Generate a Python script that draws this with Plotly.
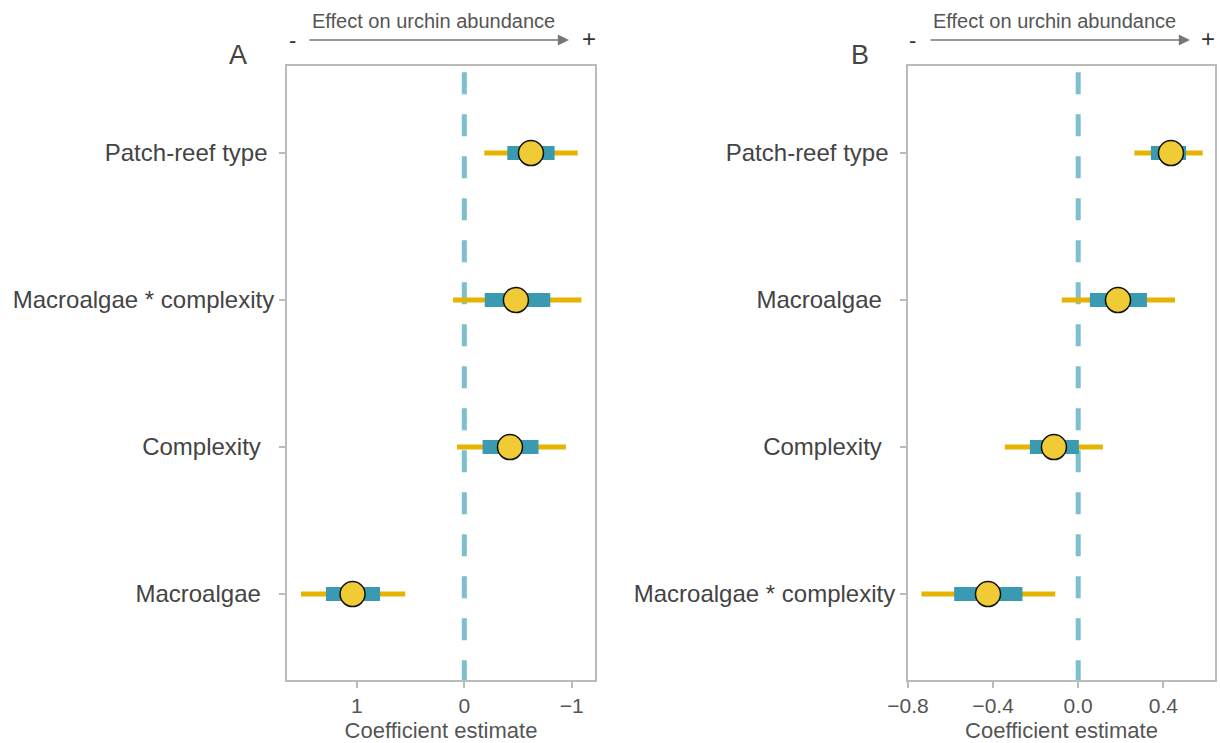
import plotly.graph_objects as go

# Panel A: coefficient estimates with inner (50%) and outer (95%) intervals
terms_a = ["Patch-reef type", "Macroalgae * complexity", "Complexity", "Macroalgae"]
labels_a = ["Patch-reef type ", "Macroalgae * complexity", "Complexity  ", "Macroalgae  "]
est_a = [-0.62, -0.48, -0.425, 1.04]
inner_lo_a = [-0.40, -0.19, -0.17, 0.784]
inner_hi_a = [-0.84, -0.80, -0.69, 1.287]
outer_lo_a = [-0.186, 0.105, 0.068, 0.55]
outer_hi_a = [-1.055, -1.09, -0.945, 1.52]

# Panel B
terms_b = ["Patch-reef type", "Macroalgae", "Complexity", "Macroalgae * complexity"]
labels_b = ["Patch-reef type ", "Macroalgae  ", "Complexity  ", "Macroalgae * complexity"]
est_b = [0.436, 0.187, -0.114, -0.424]
inner_lo_b = [0.342, 0.055, -0.227, -0.583]
inner_hi_b = [0.507, 0.323, 0.003, -0.262]
outer_lo_b = [0.264, -0.077, -0.345, -0.737]
outer_hi_b = [0.585, 0.455, 0.116, -0.108]

rows = [4, 3, 2, 1]

OUTER = "#E5B300"
INNER = "#3A9AB2"
POINT = "#F0CB35"
ZERO = "#7DBFCC"
FRAME = "#BBBBBB"
TXT = "#555555"
FONT = "Liberation Sans, Arial, sans-serif"

fig = go.Figure()


def segs(lo, hi, ys):
    xs, yy = [], []
    for a, b, y in zip(lo, hi, ys):
        xs += [a, b, None]
        yy += [y, y, None]
    return xs, yy


def add_panel(est, ilo, ihi, olo, ohi, xa, ya):
    x, y = segs(olo, ohi, rows)
    fig.add_trace(go.Scatter(x=x, y=y, mode="lines", xaxis=xa, yaxis=ya,
                             line=dict(color=OUTER, width=5), hoverinfo="skip",
                             showlegend=False))
    x, y = segs(ilo, ihi, rows)
    fig.add_trace(go.Scatter(x=x, y=y, mode="lines", xaxis=xa, yaxis=ya,
                             line=dict(color=INNER, width=14), hoverinfo="skip",
                             showlegend=False))
    fig.add_trace(go.Scatter(x=est, y=rows, mode="markers", xaxis=xa, yaxis=ya,
                             marker=dict(size=25, color=POINT,
                                         line=dict(color="#111111", width=1.5)),
                             showlegend=False))


add_panel(est_a, inner_lo_a, inner_hi_a, outer_lo_a, outer_hi_a, "x", "y")
add_panel(est_b, inner_lo_b, inner_hi_b, outer_lo_b, outer_hi_b, "x2", "y2")

# zero reference lines, dashed from the top of each panel downwards
for xr, yr in (("x", "y domain"), ("x2", "y2 domain")):
    fig.add_shape(type="line", xref=xr, yref=yr, x0=0, x1=0, y0=0.99, y1=0,
                  line=dict(color=ZERO, width=5, dash="22px,20px"), layer="below")

ydom = [(743 - 680) / 743, (743 - 66) / 743]
yrange = [0.415, 4.592]

axis_common = dict(showline=True, mirror=True, linecolor=FRAME, linewidth=2,
                   ticks="outside", ticklen=6, tickcolor=FRAME, tickwidth=1.5,
                   showgrid=False, zeroline=False, automargin=False)

fig.update_layout(
    width=1220, height=743,
    margin=dict(l=0, r=0, t=0, b=0),
    paper_bgcolor="white", plot_bgcolor="white",
    font=dict(family=FONT, color=TXT),
    xaxis=dict(domain=[287 / 1220, 595 / 1220], range=[1.65, -1.216],
               tickvals=[1, 0, -1], ticktext=["1", "0", "\u22121"],
               tickfont=dict(size=21, color=TXT),
               title=dict(text="Coefficient estimate", font=dict(size=22, color=TXT),
                          standoff=6),
               **axis_common),
    yaxis=dict(domain=ydom, range=yrange, tickvals=rows, ticktext=labels_a,
               tickfont=dict(size=24, color="#444444"), **axis_common),
    xaxis2=dict(domain=[908 / 1220, 1215 / 1220], range=[-0.8, 0.643],
                tickvals=[-0.8, -0.4, 0.0, 0.4],
                ticktext=["\u22120.8", "\u22120.4", "0.0", "0.4"],
                tickfont=dict(size=21, color=TXT),
                title=dict(text="Coefficient estimate", font=dict(size=22, color=TXT),
                           standoff=6),
                anchor="y2", **axis_common),
    yaxis2=dict(domain=ydom, range=yrange, tickvals=rows, ticktext=labels_b,
                tickfont=dict(size=24, color="#444444"), anchor="x2", **axis_common),
)


def py(pix):
    return (743 - pix) / 743


def px(pix):
    return pix / 1220


def label(x, y, text, size, color):
    fig.add_annotation(xref="paper", yref="paper", x=px(x), y=py(y), text=text,
                       xanchor="center", yanchor="middle", showarrow=False,
                       font=dict(size=size, color=color))


# Panel letters and direction arrows
for letter, lx, x0, x1, mx, plx, cx in (("A", 238, 308, 569, 292, 589, 433),
                                       ("B", 860, 929, 1190, 912, 1208, 1054)):
    label(lx, 55, letter, 27, "#444444")
    fig.add_annotation(xref="paper", yref="paper", axref="pixel", ayref="pixel",
                       x=px(x1), y=py(40), ax=-(x1 - x0), ay=0, text="",
                       showarrow=True, arrowhead=2, arrowsize=1.4, arrowwidth=1.6,
                       arrowcolor="#777777", standoff=0, startstandoff=0)
    label(mx, 40, "-", 22, "#333333")
    label(plx, 39, "+", 24, "#333333")
    label(cx, 21, "Effect on urchin abundance", 20, "#555555")

fig.write_html("out.html")
